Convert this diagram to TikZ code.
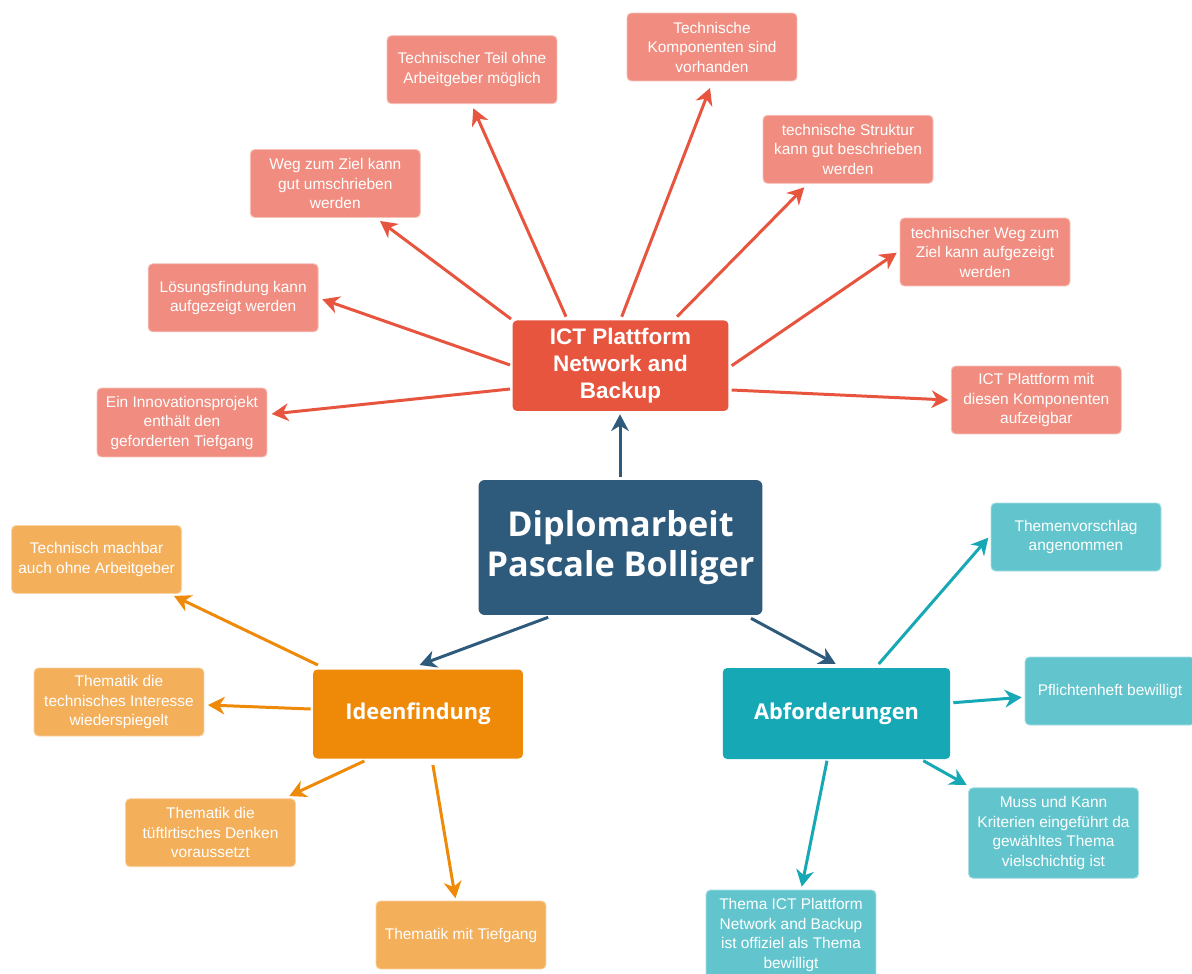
\documentclass[tikz,border=0pt]{standalone}
\usepackage{fontspec}
\setmainfont{Liberation Sans}
\newfontfamily\headfont{Open Sans}
\newfontfamily\ictfont{Liberation Sans}
\usetikzlibrary{arrows.meta,calc}

\definecolor{mainblue}{HTML}{2E5A7C}
\definecolor{ictred}{HTML}{E8553F}
\definecolor{ictleaf}{HTML}{F08D80}
\definecolor{ideaorange}{HTML}{EF8A09}
\definecolor{idealeaf}{HTML}{F4AF5B}
\definecolor{reqteal}{HTML}{16A9B5}
\definecolor{reqleaf}{HTML}{62C5CD}

\tikzset{
  box/.style={rectangle, rounded corners=2.5pt, inner sep=0pt, align=center, text=white},
  leaf/.style={box, minimum width=3.4cm, minimum height=1.36cm,
    line width=0.5pt, font=\fontsize{8.8}{11.1}\selectfont},
  redleaf/.style={leaf, fill=ictleaf, draw=ictleaf!55!white},
  orangeleaf/.style={leaf, fill=idealeaf, draw=idealeaf!55!white},
  tealleaf/.style={leaf, fill=reqleaf, draw=reqleaf!55!white},
  hub/.style={box, font=\headfont\bfseries\fontsize{12.4}{15}\selectfont},
  link/.style={line width=1.7pt, -{Stealth[length=9.5pt,width=10pt,inset=3pt]}},
}

\begin{document}
\begin{tikzpicture}[x=0.02cm, y=-0.02cm]
  \fill[white] (0,0) rectangle (1192,973);
  \clip (0,0) rectangle (1192,973);

  % central topic and the three branches
  \node[box, fill=mainblue, rounded corners=3.5pt, minimum width=5.68cm, minimum height=2.7cm,
        font=\headfont\bfseries\fontsize{19.5}{22.7}\selectfont]
        (main) at (620.5,547.5) {Diplomarbeit\\Pascale Bolliger};
  \node[box, fill=ictred, minimum width=4.32cm, minimum height=1.81cm,
        font=\ictfont\bfseries\fontsize{12.8}{15.1}\selectfont]
        (ict) at (620.5,365.7) {ICT Plattform\\Network and\\Backup};
  \node[hub, fill=ideaorange, minimum width=4.2cm, minimum height=1.78cm]
        (idea) at (418,714) {Ideenfindung};
  \node[hub, fill=reqteal, minimum width=4.55cm, minimum height=1.82cm]
        (req) at (836.5,713.5) {Abforderungen};

  % ICT branch
  \node[redleaf] (r1) at (472,69.7) {Technischer Teil ohne\\Arbeitgeber möglich};
  \node[redleaf] (r2) at (712,47) {Technische\\Komponenten sind\\vorhanden};
  \node[redleaf] (r3) at (848,149.3) {technische Struktur\\kann gut beschrieben\\werden};
  \node[redleaf] (r4) at (985,252) {technischer Weg zum\\Ziel kann aufgezeigt\\werden};
  \node[redleaf] (r5) at (1036.3,400) {ICT Plattform mit\\diesen Komponenten\\aufzeigbar};
  \node[redleaf] (r6) at (335.3,183.5) {Weg zum Ziel kann\\gut umschrieben\\werden};
  \node[redleaf] (r7) at (233.2,297.8) {Lösungsfindung kann\\aufgezeigt werden};
  \node[redleaf, minimum height=1.38cm] (r8) at (182,422.5) {Ein Innovationsprojekt\\enthält den\\geforderten Tiefgang};

  % idea branch
  \node[orangeleaf] (o1) at (96.6,559.5) {Technisch machbar\\auch ohne Arbeitgeber};
  \node[orangeleaf] (o2) at (119,702) {Thematik die\\technisches Interesse\\wiederspiegelt};
  \node[orangeleaf] (o3) at (210.5,832.7) {Thematik die\\tüftlrtisches Denken\\voraussetzt};
  \node[orangeleaf] (o4) at (461,935) {Thematik mit Tiefgang};

  % requirements branch
  \node[tealleaf] (t1) at (1076,537) {Themenvorschlag\\angenommen};
  \node[tealleaf] (t2) at (1110,691) {Pflichtenheft bewilligt};
  \node[tealleaf, minimum height=1.81cm] (t3) at (1053.5,833) {Muss und Kann\\Kriterien eingeführt da\\gewähltes Thema\\vielschichtig ist};
  \node[tealleaf, minimum height=1.8cm] (t4) at (791,935) {Thema ICT Plattform\\Network and Backup\\ist offiziel als Thema\\bewilligt};

  % connectors from the centre
  \draw[link, mainblue] ($(main)+(-0.5,-70.5)$) -- ($(ict)+(-0.5,48.6)$);
  \draw[link, mainblue] ($(main)+(-72.3,69.8)$) -- ($(idea)+(1.6,-49)$);
  \draw[link, mainblue] ($(main)+(130.5,70.8)$) -- ($(req)+(-0.8,-49.5)$);

  % connectors of the ICT branch
  \draw[link, ictred] ($(ict)+(-54.5,-49)$) -- ($(r1)+(1.3,38.6)$);
  \draw[link, ictred] ($(ict)+(1.2,-49)$) -- ($(r2)+(-2,41)$);
  \draw[link, ictred] ($(ict)+(56.5,-49)$) -- ($(r3)+(-43.7,38)$);
  \draw[link, ictred] ($(ict)+(111.2,0)$) -- ($(r4)+(-88.3,0.7)$);
  \draw[link, ictred] ($(ict)+(111.2,24.3)$) -- ($(r5)+(-88,0)$);
  \draw[link, ictred] ($(ict)+(-109.5,-46.7)$) -- ($(r6)+(44.7,37.5)$);
  \draw[link, ictred] ($(ict)+(-110.5,-0.7)$) -- ($(r7)+(89.1,1.5)$);
  \draw[link, ictred] ($(ict)+(-110.5,23.3)$) -- ($(r8)+(89.7,-8.5)$);

  % connectors of the idea branch
  \draw[link, ideaorange] ($(idea)+(-100.1,-49)$) -- ($(o1)+(77.4,36.5)$);
  \draw[link, ideaorange] ($(idea)+(-107.3,-5)$) -- ($(o2)+(88.9,3)$);
  \draw[link, ideaorange] ($(idea)+(-53.7,47)$) -- ($(o3)+(78.8,-36.7)$);
  \draw[link, ideaorange] ($(idea)+(14.9,51)$) -- ($(o4)+(-5.6,-36.7)$);

  % connectors of the requirements branch
  \draw[link, reqteal] ($(req)+(42.2,-49.5)$) -- ($(t1)+(-87.7,0.7)$);
  \draw[link, reqteal] ($(req)+(116.8,-10.8)$) -- ($(t2)+(-88.3,6.3)$);
  \draw[link, reqteal] ($(req)+(86.8,47.2)$) -- ($(t3)+(-86.8,-48)$);
  \draw[link, reqteal] ($(req)+(-9.5,47.2)$) -- ($(t4)+(10.7,-48.3)$);
\end{tikzpicture}
\end{document}
